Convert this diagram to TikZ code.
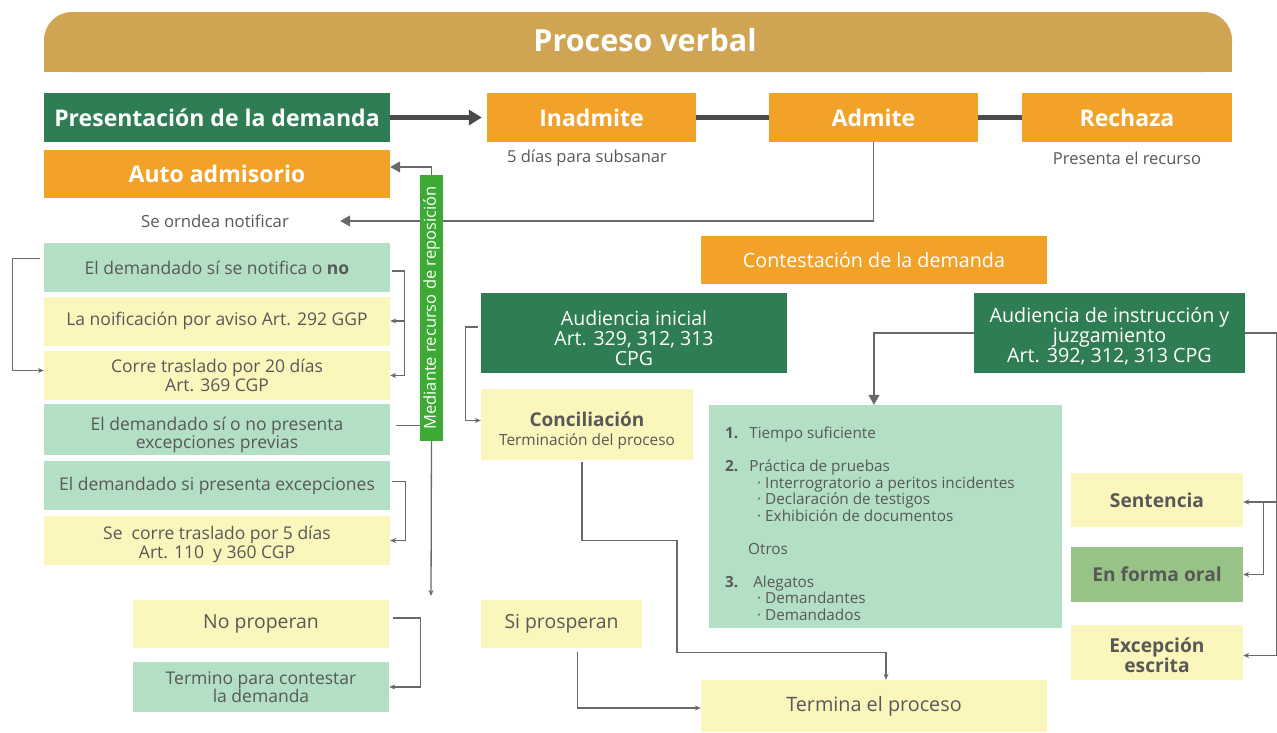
\documentclass[tikz,border=0pt]{standalone}
\usepackage{fontspec}
\setmainfont{Open Sans}
\usetikzlibrary{arrows.meta}

\definecolor{oro}{RGB}{207,165,84}
\definecolor{verdeosc}{RGB}{47,125,83}
\definecolor{naranja}{RGB}{243,162,41}
\definecolor{verdecla}{RGB}{179,223,196}
\definecolor{amarillo}{RGB}{251,246,187}
\definecolor{verdemed}{RGB}{152,195,135}
\definecolor{verdebar}{RGB}{61,170,53}
\definecolor{gristxt}{RGB}{88,88,88}
\definecolor{grislin}{RGB}{105,105,105}
\definecolor{grisosc}{RGB}{75,75,75}

\newcommand{\subir}[1]{\rule{0pt}{#1}}

\begin{document}
\begin{tikzpicture}[x=1pt, y=-1pt,
	caja/.style = {rectangle, inner sep=2pt, align=center, text=gristxt, font=\fontsize{17.5}{18.5}\selectfont},
	izq/.style = {caja, minimum width=346pt, minimum height=49pt},
	jefe/.style = {caja, text=white, font=\fontsize{23}{26}\selectfont\bfseries},
	nota/.style = {align=center, text=gristxt, font=\fontsize{16.5}{18}\selectfont},
	linea/.style = {draw=grislin, line width=1.3pt},
	flecha/.style = {linea, -{Stealth[length=6pt,width=5pt]}},
	flechag/.style = {linea, -{Triangle[length=10pt,width=11pt]}},
	gruesa/.style = {draw=grisosc, line width=4.5pt}]

			\useasboundingbox (0,0) rectangle (1277,732);

			\fill[oro, rounded corners=28pt] (44,12) rectangle (1232,72);
			\fill[oro] (44,45) rectangle (1232,72);
			\node[text=white, font=\fontsize{30.5}{34}\selectfont\bfseries] (titulo) at (645,40) {Proceso verbal};

			\node[jefe, fill=verdeosc, minimum width=346pt, minimum height=49pt] (pres) at (217,117.5) {Presentación de la demanda};
			\node[jefe, fill=naranja, minimum width=209pt, minimum height=49pt] (inad) at (591.5,117.5) {Inadmite};
			\node[jefe, fill=naranja, minimum width=209pt, minimum height=49pt] (adm) at (873.5,117.5) {Admite};
			\node[jefe, fill=naranja, minimum width=210pt, minimum height=49pt] (rech) at (1127,117.5) {Rechaza};
			\node[nota] (subs) at (587,158) {5 días para subsanar};
			\node[nota] (recurso) at (1127,158) {Presenta el recurso};
			\node[jefe, fill=naranja, minimum width=346pt, minimum height=48pt] (auto) at (217,174) {Auto admisorio};
			\node[nota, font=\fontsize{16.7}{19}\selectfont, minimum width=250pt] (notif) at (215,221) {Se orndea notificar};

			\draw[gruesa, -{Triangle[length=13pt,width=15pt]}, shorten >=5pt] (pres) -- (inad);
			\draw[gruesa] (inad) -- (adm);
			\draw[gruesa] (adm) -- (rech);
			\draw[flechag] (adm.south) |- (notif.east);

			\node[rectangle, fill=verdebar, text=white, rotate=90, inner sep=0pt, minimum width=266pt, minimum height=23pt, font=\fontsize{16.5}{18}\selectfont] (reposicion) at (431.5,308) {Mediante recurso de reposición};

			\node[izq, fill=verdecla] (d1) at (217,267.5) {El demandado sí se notifica o \textbf{no}};
			\node[izq, fill=amarillo] (d2) at (217,321) {La noificación por aviso Art. 292 GGP};
			\node[izq, fill=amarillo] (d3) at (217,375.5) {Corre traslado por 20 días\\Art. 369 CGP};
			\node[izq, fill=verdecla] (d4) at (217,429.5) {\subir{24.5pt}El demandado sí o no presenta\\excepciones previas};
			\node[izq, fill=verdecla] (d5) at (217,485.5) {El demandado si presenta excepciones};
			\node[izq, fill=amarillo] (d6) at (217,540.5) {\subir{21.5pt}Se\ \ corre traslado por 5 días\\Art. 110\ \ y 360 CGP};
			\node[caja, fill=amarillo, minimum width=256pt, minimum height=48pt, font=\fontsize{19.4}{20}\selectfont] (noprop) at (261,624) {No properan};
			\node[caja, fill=verdecla, minimum width=256pt, minimum height=50pt] (termino) at (261,687) {Termino para contestar\\la demanda};
			\coordinate (finrep) at (431,596);

			\draw[flechag] (reposicion.east) |- ([yshift=7pt]auto.east);
			\draw[linea, shorten <=6pt] ([yshift=4pt]d4.east) -- ([yshift=4pt]d4.east -| reposicion.north);
			\draw[flecha] (reposicion.west) -- (finrep);
			\draw[flecha, shorten <=4pt] ([yshift=9pt]d1.west) -- ++(-31,0) |- ([yshift=5pt]d3.west);
			\draw[flecha, shorten <=2pt] ([yshift=-3.5pt]d1.east) -- ++(14,0) |- (d3.east);
			\draw[flecha] ([xshift=14pt]d2.east) -- (d2.east);
			\draw[flecha, shorten <=2pt] ([yshift=4pt]d5.east) -- ++(15,0) |- (d6.east);
			\draw[flecha, shorten <=4pt] ([yshift=6pt]noprop.east) -- ++(31,0) |- (termino.east);

			\node[caja, fill=naranja, text=white, minimum width=346pt, minimum height=48pt, font=\fontsize{19.7}{22}\selectfont] (contest) at (874,260) {Contestación de la demanda};
			\node[caja, fill=verdeosc, text=white, minimum width=306pt, minimum height=80pt, font=\fontsize{19.5}{20}\selectfont] (audini) at (634,333) {\subir{26pt}Audiencia inicial\\Art. 329, 312, 313\\CPG};
			\node[caja, fill=verdeosc, text=white, minimum width=271pt, minimum height=80pt, font=\fontsize{19.7}{20}\selectfont] (audins) at (1109.5,333) {\subir{22pt}Audiencia de instrucción y\\juzgamiento\\Art. 392, 312, 313 CPG};
			\node[caja, fill=amarillo, minimum width=212pt, minimum height=71pt] (concil) at (587,424.5) {{\fontsize{19}{20}\selectfont\bfseries\subir{27pt}Conciliación}\\{\fontsize{15.4}{17}\selectfont Terminación del proceso}};
			\node[fill=verdecla, minimum width=353pt, minimum height=223pt] (lista) at (885.5,516.5) {};
			\node[anchor=north west, align=left, inner sep=0pt, text=gristxt, font=\fontsize{15.3}{16.5}\selectfont] (listatxt) at (725,427) {\textbf{1.}\hspace{11pt}Tiempo suficiente\\[16.5pt]
				\textbf{2.}\hspace{11pt}Práctica de pruebas\\
				\hspace*{32pt}· Interrogratorio a peritos incidentes\\
				\hspace*{32pt}· Declaración de testigos\\
				\hspace*{32pt}· Exhibición de documentos\\[16.5pt]
				\hspace*{23pt}Otros\\[16.5pt]
				\textbf{3.}\hspace{15pt}Alegatos\\
				\hspace*{32pt}· Demandantes\\
				\hspace*{32pt}· Demandados};

			\node[caja, fill=amarillo, minimum width=172pt, minimum height=54pt, font=\fontsize{19.2}{19}\selectfont\bfseries] (sent) at (1157,500) {Sentencia};
			\node[caja, fill=verdemed, minimum width=172pt, minimum height=55pt, font=\fontsize{19.2}{19}\selectfont\bfseries] (oral) at (1157,574.5) {En forma oral};
			\node[caja, fill=amarillo, minimum width=172pt, minimum height=55pt, font=\fontsize{19.2}{19}\selectfont\bfseries] (excep) at (1157,652.5) {\subir{20pt}Excepción\\escrita};
			\node[caja, fill=amarillo, minimum width=161pt, minimum height=48pt, font=\fontsize{19.4}{20}\selectfont] (siprosp) at (561.5,624) {Si prosperan};
			\node[caja, fill=amarillo, minimum width=346pt, minimum height=52pt, font=\fontsize{19.8}{20}\selectfont] (termina) at (874,706) {Termina el proceso};

			\draw[flecha, shorten <=3pt] ([yshift=6pt]audini.west) -- ++(-15,0) |- ([yshift=4pt]concil.west);
			\draw[flechag] (audins.west) -| ([xshift=-11.5pt]lista.north);
			\draw[flecha] (audins.east) -- ++(31,0) |- ([yshift=-3pt]excep.east);
			\draw[flecha] ([xshift=33pt,yshift=-2pt]sent.east) -- ([yshift=-2pt]sent.east);
			\draw[flecha] ([xshift=20pt,yshift=-2pt]sent.east) |- (oral.east);
			\draw[flecha, shorten <=2pt] ([xshift=-5pt]concil.south) -- ++(0,80) -- ++(95,0) -- ++(0,112) -| ([xshift=12pt]termina.north);
			\draw[flecha] ([xshift=16pt,yshift=-4pt]siprosp.south) |- ([yshift=-2pt]termina.west);
		\end{tikzpicture}
\end{document}
